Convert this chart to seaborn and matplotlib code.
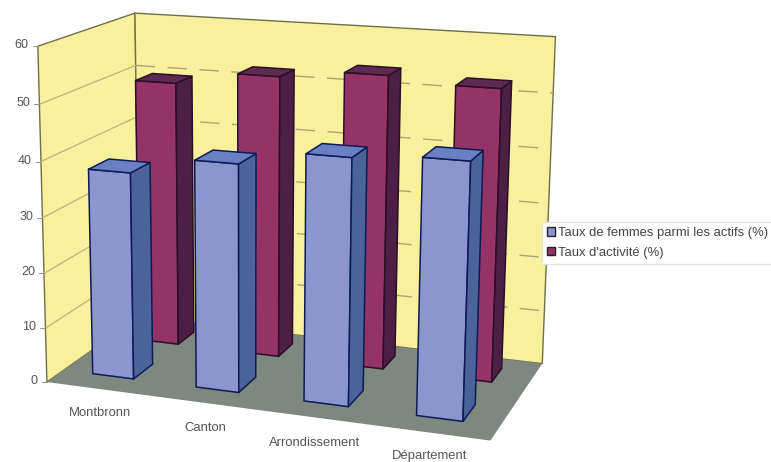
import numpy as np
import pandas as pd
import seaborn as sns
import matplotlib
matplotlib.use("Agg")
import matplotlib.pyplot as plt
from matplotlib.patches import Polygon, Patch

categories = ["Montbronn", "Canton", "Arrondissement", "Département"]
femmes = [37.6, 40.8, 43.5, 44.5]
activite = [49.7, 52.2, 53.7, 52.7]
series_names = ["Taux de femmes parmi les actifs (%)", "Taux d'activité (%)"]
value_ticks = [0, 10, 20, 30, 40, 50, 60]

df = pd.DataFrame({"categorie": categories, series_names[0]: femmes, series_names[1]: activite})

sns.set_theme(style="white")
plt.rcParams["font.family"] = ["Liberation Sans", "DejaVu Sans"]

W, H = 771, 462
Z_MAX = 60.0

# Camera calibration: box corners (category, depth, value) and where they land on the canvas.
box = [(0, 0, 0), (4, 0, 0), (0, 0, 60), (0, 1, 0), (4, 1, 0), (0, 1, 60), (4, 1, 60)]
canvas = [(49, 381), (490, 442), (36, 46), (137, 318), (543, 362), (137, 13), (555, 37)]


def fit_camera(src, dst):
    rows, rhs = [], []
    for (x, y, z), (u, v) in zip(src, dst):
        z = z / Z_MAX
        rows.append([x, y, z, 1, 0, 0, 0, 0, -u * x, -u * y, -u * z])
        rhs.append(u)
        rows.append([0, 0, 0, 0, x, y, z, 1, -v * x, -v * y, -v * z])
        rhs.append(v)
    p, *_ = np.linalg.lstsq(np.array(rows, float), np.array(rhs, float), rcond=None)
    return np.append(p, 1.0).reshape(3, 4)


CAM = fit_camera(box, canvas)


def proj(x, y, z):
    h = CAM @ np.array([x, y, z / Z_MAX, 1.0])
    return h[0] / h[2], h[1] / h[2]


fig = plt.figure(figsize=(W / 100, H / 100), dpi=100)
ax = fig.add_axes([0, 0, 1, 1])
ax.set_xlim(0, W)
ax.set_ylim(H, 0)
ax.axis("off")


def face(pts, color, edge=None, lw=1.0, z=1):
    ax.add_patch(Polygon([proj(*p) for p in pts], closed=True, facecolor=color,
                         edgecolor=edge if edge else "none", linewidth=lw,
                         joinstyle="round", zorder=z))


WALL = "#F8F09C"
WALL_EDGE = "#6E7048"
FLOOR = "#7E8780"
GRID_SIDE = "#B9B67E"
GRID_BACK = "#A8A678"

# Walls and floor
face([(0, 0, 0), (0, 1, 0), (0, 1, 60), (0, 0, 60)], WALL, WALL_EDGE, 1.0, 1)
face([(0, 1, 0), (4, 1, 0), (4, 1, 60), (0, 1, 60)], WALL, WALL_EDGE, 1.0, 1)
face([(0, 0, 0), (4, 0, 0), (4, 1, 0), (0, 1, 0)], FLOOR, None, 0, 2)

# Gridlines: continuous on the side wall, dashed on the back wall
for v in value_ticks[1:-1]:
    a, b, c = proj(0, 0, v), proj(0, 1, v), proj(4, 1, v)
    ax.plot([a[0], b[0]], [a[1], b[1]], color=GRID_SIDE, lw=0.9, zorder=2)
    ax.plot([b[0], c[0]], [b[1], c[1]], color=GRID_BACK, lw=1.0, ls=(0, (14, 9)), zorder=2)

# Value axis labels and ticks
for v in value_ticks:
    px, py = proj(0, 0, v)
    ax.plot([px - 5, px], [py, py], color="#909090", lw=0.7, zorder=2)
    ax.text(px - 9, py - 1, str(v), ha="right", va="center", fontsize=9.0, color="#555555")

# Category labels below the front edge of the floor
label_dx = [2, 1, 0, -1]
label_dy = [24, 25, 26, 23]
for i, name in enumerate(categories):
    px, py = proj(i + 0.5, 0, 0)
    ax.text(px + label_dx[i], py + label_dy[i], name, ha="center", va="center",
            fontsize=9.4, color="#555555")


def bar3d(x0, x1, y0, y1, value, front, side, top, edge, z):
    face([(x0, y0, 0), (x1, y0, 0), (x1, y0, value), (x0, y0, value)], front, edge, 1.1, z)
    face([(x1, y0, 0), (x1, y1, 0), (x1, y1, value), (x1, y0, value)], side, edge, 1.1, z)
    face([(x0, y0, value), (x1, y0, value), (x1, y1, value), (x0, y1, value)], top, edge, 1.1, z)


CENTER, HALF = 0.485, 0.2
styles = {
    series_names[1]: dict(depth=(0.68, 0.87), front="#933366", side="#4E1F45", top="#5E2A52", edge="#2A0F25", z=3),
    series_names[0]: dict(depth=(0.17, 0.38), front="#8C96CE", side="#4A6398", top="#6A80C2", edge="#0E1A55", z=5),
}
for name in [series_names[1], series_names[0]]:
    st = styles[name]
    for i, value in enumerate(df[name]):
        bar3d(i + CENTER - HALF, i + CENTER + HALF, st["depth"][0], st["depth"][1], value,
              st["front"], st["side"], st["top"], st["edge"], st["z"] + i * 0.1)

handles = [Patch(facecolor=styles[n]["front"], edgecolor="#222222", linewidth=1.0, label=n) for n in series_names]
leg = ax.legend(handles=handles, loc="upper left", bbox_to_anchor=(542, 222), bbox_transform=ax.transData,
                frameon=True, fancybox=False, framealpha=1, facecolor="white", edgecolor="#E4E4E4",
                fontsize=9.4, labelcolor="#444444", handlelength=0.62, handleheight=0.62,
                handletextpad=0.23, borderpad=0.38, labelspacing=0.6, borderaxespad=0)
leg.set_zorder(10)

fig.savefig("out.png", dpi=100, facecolor="white")
